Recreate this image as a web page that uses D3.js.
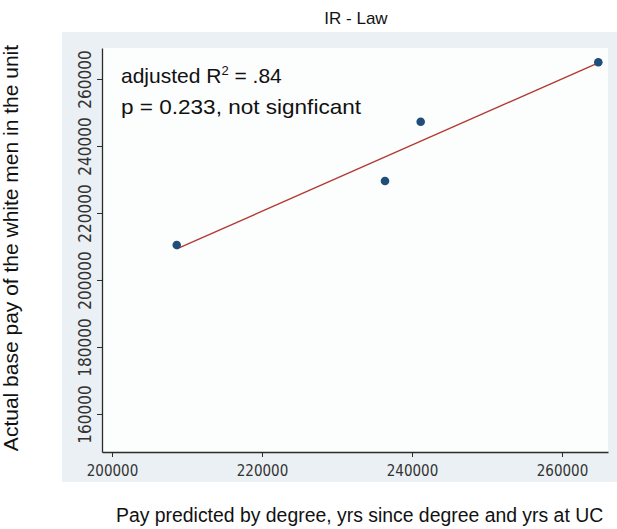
<!DOCTYPE html>
<html>
<head>
<meta charset="utf-8">
<script src="https://cdn.jsdelivr.net/npm/d3@7/dist/d3.min.js"></script>
<style>
  html, body { margin: 0; padding: 0; background: #ffffff; }
  svg { display: block; }
</style>
</head>
<body>
<svg id="chart" width="617" height="529"></svg>
<script>
// ---- data ----
const predictedPay = [208630, 236400, 241160, 264840];   // x: predicted pay
const actualPay    = [210450, 229550, 247250, 264980];   // y: actual base pay
const xTicks = [200000, 220000, 240000, 260000];
const yTicks = [160000, 180000, 200000, 220000, 240000, 260000];
const xDomain = [198667, 266133];
const yDomain = [148657, 269250];
const titleText = "IR - Law";
const xTitle = "Pay predicted by degree, yrs since degree and yrs at UC";
const yTitle = "Actual base pay of the white men in the unit";
const notes = ["adjusted R\u00b2 = .84", "p = 0.233, not signficant"];

// ---- layout ----
const svg = d3.select("#chart");
const W = 617, H = 529;
const plot = { left: 102, right: 608, top: 48, bottom: 452 };

const x = d3.scaleLinear().domain(xDomain).range([plot.left, plot.right]);
const y = d3.scaleLinear().domain(yDomain).range([plot.bottom, plot.top]);

svg.append("rect").attr("width", W).attr("height", H).attr("fill", "#ffffff");
// graph region tint
svg.append("rect").attr("x", 62).attr("y", 32).attr("width", W - 62).attr("height", 450)
  .attr("fill", "#eaf0f3");
// plot region
svg.append("rect").attr("x", plot.left).attr("y", plot.top)
  .attr("width", plot.right - plot.left).attr("height", plot.bottom - plot.top)
  .attr("fill", "#fcfdfd");

const tickFont = "'Liberation Sans Narrow', 'DejaVu Sans Condensed', 'Liberation Sans', sans-serif";

// x axis
const gx = svg.append("g").attr("transform", `translate(0,${plot.bottom})`)
  .call(d3.axisBottom(x).tickValues(xTicks).tickSize(5).tickSizeOuter(0).tickFormat(d3.format("d")));
gx.select(".domain").attr("stroke", "#2b2b2b").attr("stroke-width", 1.3);
gx.selectAll(".tick line").attr("stroke", "#2b2b2b").attr("stroke-width", 1);
gx.selectAll(".tick text").attr("y", 24).attr("dy", null)
  .attr("font-family", tickFont).attr("font-size", 15).attr("fill", "#333");

// y axis
const gy = svg.append("g").attr("transform", `translate(${plot.left},0)`)
  .call(d3.axisLeft(y).tickValues(yTicks).tickSize(5).tickSizeOuter(0).tickFormat(d3.format("d")));
gy.select(".domain").attr("stroke", "#2b2b2b").attr("stroke-width", 1.3);
gy.selectAll(".tick line").attr("stroke", "#2b2b2b").attr("stroke-width", 1);
gy.selectAll(".tick text")
  .attr("x", null).attr("dy", null)
  .attr("text-anchor", "middle")
  .attr("transform", "translate(-11,0) rotate(-90)")
  .attr("font-family", tickFont).attr("font-size", 17).attr("fill", "#333");

// regression line (OLS)
const n = predictedPay.length;
const mx = d3.mean(predictedPay), my = d3.mean(actualPay);
let sxy = 0, sxx = 0;
for (let i = 0; i < n; i++) {
  sxy += (predictedPay[i] - mx) * (actualPay[i] - my);
  sxx += (predictedPay[i] - mx) ** 2;
}
const slope = sxy / sxx, intercept = my - slope * mx;
const [xmin, xmax] = d3.extent(predictedPay);
svg.append("line")
  .attr("x1", x(xmin)).attr("y1", y(intercept + slope * xmin))
  .attr("x2", x(xmax)).attr("y2", y(intercept + slope * xmax))
  .attr("stroke", "#b23a33").attr("stroke-width", 1.4);

// points
svg.append("g").selectAll("circle")
  .data(predictedPay.map((d, i) => [d, actualPay[i]]))
  .join("circle")
  .attr("cx", d => x(d[0])).attr("cy", d => y(d[1]))
  .attr("r", 4.3).attr("fill", "#1f4e79");

// annotations
const mainFont = "'Liberation Sans', Arial, sans-serif";
const t1 = svg.append("text").attr("x", 121).attr("y", 83)
  .attr("font-family", mainFont).attr("font-size", 21).attr("fill", "#111");
t1.append("tspan").text("adjusted R");
t1.append("tspan").attr("font-size", 13).attr("dy", -8).text("2");
t1.append("tspan").attr("dy", 8).text(" = .84");
svg.append("text").attr("x", 121).attr("y", 114)
  .attr("font-family", mainFont).attr("font-size", 21).attr("fill", "#111")
  .attr("textLength", 240).attr("lengthAdjust", "spacingAndGlyphs")
  .text(notes[1]);

// title
svg.append("text").attr("x", 356).attr("y", 24).attr("text-anchor", "middle")
  .attr("font-family", mainFont).attr("font-size", 17).attr("fill", "#111").text(titleText);

// axis titles
svg.append("text").attr("x", 116).attr("y", 522)
  .attr("font-family", mainFont).attr("font-size", 19.4).attr("fill", "#111").text(xTitle);
svg.append("text").attr("transform", "translate(18,248) rotate(-90)").attr("text-anchor", "middle")
  .attr("font-family", mainFont).attr("font-size", 21).attr("fill", "#111").text(yTitle);
</script>
</body>
</html>
